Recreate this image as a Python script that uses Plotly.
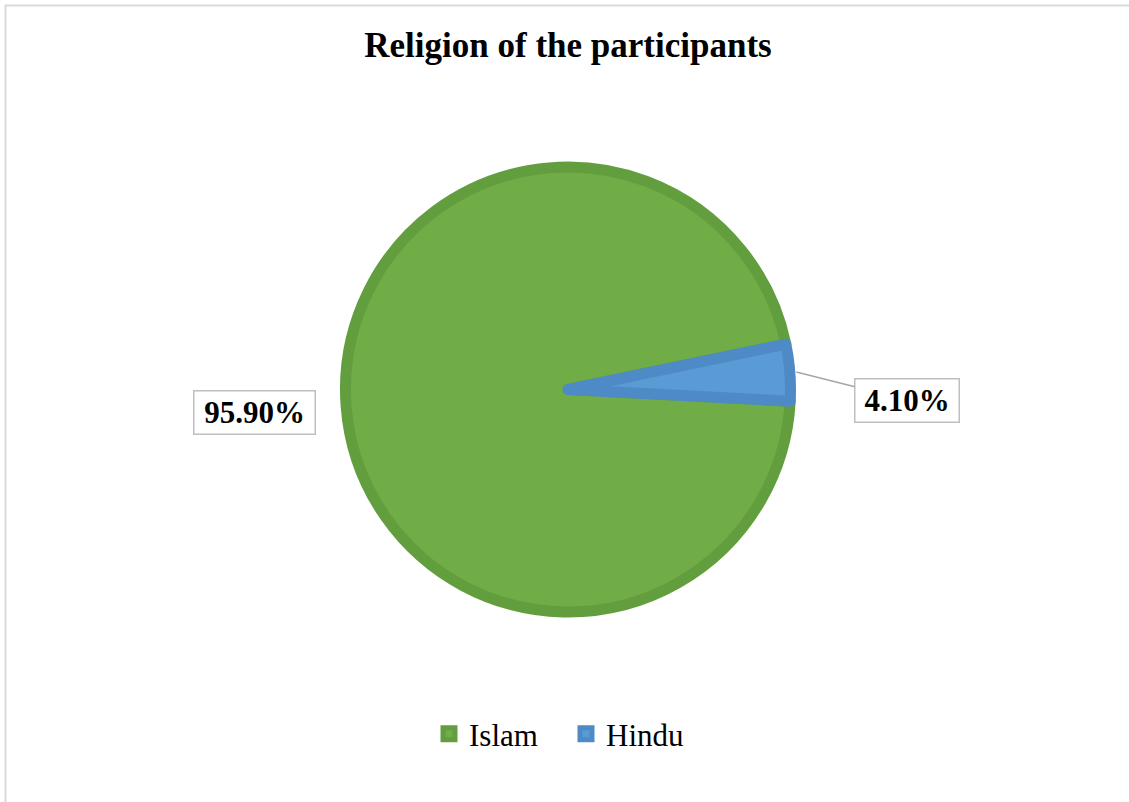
import math
import plotly.graph_objects as go

# ---- data ----
labels = ["Islam", "Hindu"]
values = [95.9, 4.1]
text_labels = ["95.90%", "4.10%"]
title_text = "Religion of the participants"

fill_colors = ["#70AD47", "#5B9BD5"]
line_colors = ["#639E3E", "#4E8BC6"]

W, H = 1129, 802
ML, MR, MT, MB = 100, 93, 167, 190
PW = W - ML - MR
PH = H - MT - MB
ROT = 93.0
LINE_W = 11


def px_to_paper(px, py):
    return (px - ML) / PW, (H - MB - py) / PH


fig = go.Figure()
fig.add_trace(go.Pie(
    labels=labels,
    values=values,
    sort=False,
    direction="clockwise",
    rotation=ROT,
    textinfo="none",
    hoverinfo="label+percent",
    marker=dict(colors=fill_colors, line=dict(color=line_colors, width=LINE_W)),
    domain=dict(x=[0, 1], y=[0, 1]),
))

# geometry of the pie in pixels (derived from layout)
cx = ML + PW / 2
cy = MT + PH / 2
R = min(PW, PH) / 2
total = sum(values)
hindu_start = ROT + 360 * values[0] / total
hindu_mid = math.radians(hindu_start + 180 * values[1] / total)
r_out = R + LINE_W / 2 + 1
ax_px = cx + r_out * math.sin(hindu_mid)
ay_px = cy - r_out * math.cos(hindu_mid)
ax_p, ay_p = px_to_paper(ax_px, ay_px)

lab_font = dict(family="Liberation Serif", size=31, color="black")
annotations = [
    dict(x=px_to_paper(254, 412)[0], y=px_to_paper(254, 412)[1], xref="paper", yref="paper",
         xanchor="center", yanchor="middle",
         text="<b>" + text_labels[0] + "</b>", showarrow=False, font=lab_font,
         bordercolor="#BFBFBF", borderwidth=1.5, borderpad=2, bgcolor="white",
         width=116, height=38),
    dict(x=ax_p, y=ay_p, xref="paper", yref="paper",
         text="<b>" + text_labels[1] + "</b>", showarrow=True, arrowhead=0,
         arrowwidth=1.5, arrowcolor="#A6A6A6",
         ax=907 - ax_px, ay=400 - ay_px, font=lab_font,
         bordercolor="#BFBFBF", borderwidth=1.5, borderpad=2, bgcolor="white",
         width=99, height=38),
]

x0, y0 = px_to_paper(5.5, 5.5)
x1, y1 = px_to_paper(1140, 815)
shapes = [dict(type="rect", xref="paper", yref="paper", x0=x0, y0=y1, x1=x1, y1=y0,
               line=dict(color="#D9D9D9", width=2), fillcolor="rgba(0,0,0,0)", layer="below")]

lx, ly = px_to_paper(566, 734)
fig.update_layout(
    width=W, height=H,
    margin=dict(l=ML, r=MR, t=MT, b=MB, autoexpand=False),
    paper_bgcolor="white", plot_bgcolor="white",
    title=dict(text="<b>" + title_text + "</b>", x=568 / W, xanchor="center",
               y=1 - 45 / H, yanchor="middle",
               font=dict(family="Liberation Serif", size=35, color="black")),
    showlegend=True,
    legend=dict(orientation="h", x=lx, xanchor="center", y=ly, yanchor="middle",
                font=dict(family="Liberation Serif", size=31, color="black"),
                traceorder="normal", entrywidth=92, entrywidthmode="pixels"),
    annotations=annotations,
    shapes=shapes,
)

fig.write_html("out.html", config={"displayModeBar": False},
               post_script="document.body.style.margin='0';")
